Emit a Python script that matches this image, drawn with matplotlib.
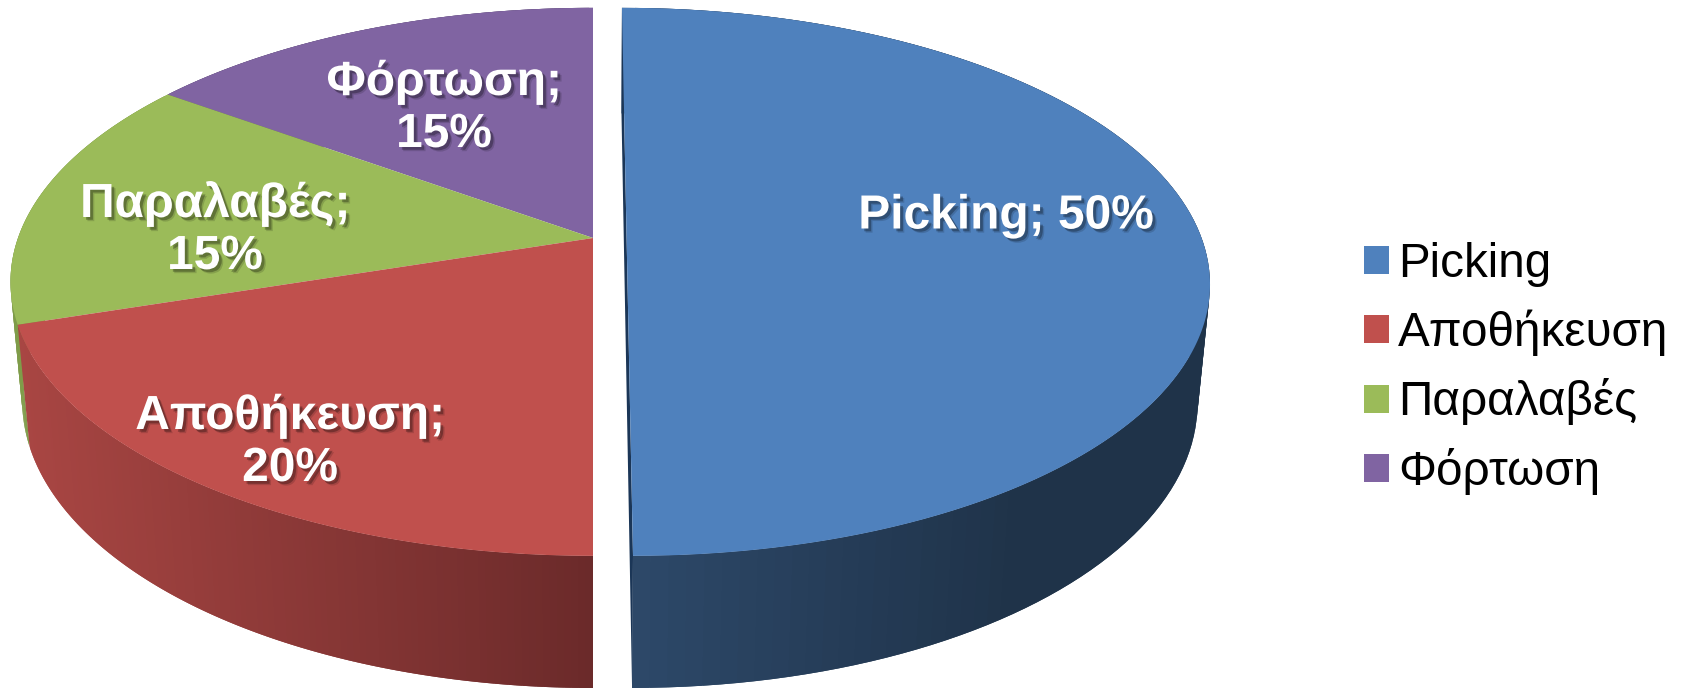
import numpy as np
import matplotlib
matplotlib.use("Agg")
import matplotlib.pyplot as plt
import matplotlib.patheffects as pe
from matplotlib.patches import Patch, Polygon

# Chart data
categories = ["Picking", "Αποθήκευση", "Παραλαβές", "Φόρτωση"]
shares = [50, 20, 15, 15]
label_separators = ["; ", ";\n", ";\n", ";\n"]

# Styling
top_colors = ["#4f81bd", "#c0504d", "#9bbb59", "#8064a2"]
wall_ramps = {
    0: ((633, "#2d4869"), (1010, "#1f3349")),
    1: ((26, "#a94643"), (592, "#6b2a2a")),
    2: ((0, "#7f9c49"), (60, "#7f9c49")),
    3: ((0, "#5e4a78"), (60, "#5e4a78")),
}
label_pos = [(1006, 216), (290, 442), (215, 230), (444, 108)]

# Perspective camera for the tilted disc, in figure pixels
CX, CY = 593.0, 238.0
RX, RY = 575.0, 267.0
TILT = 0.16
DEPTH_W = 0.02
DEPTH_H = 120.0
EXPLODE = [33.6, 0.0, 0.0, 0.0]


def project(theta, shift, radius=1.0, lower=False):
    """Project polar disc points (clockwise from 12 o'clock) to the canvas."""
    u = radius * np.sin(theta)
    v = radius * np.cos(theta)
    w = 1 + TILT * v + (DEPTH_W if lower else 0.0)
    h = DEPTH_H if lower else 0.0
    return CX + (RX * u + shift) / w, CY + (-RY * v + h) / w


def hex_rgb(c):
    return np.array(matplotlib.colors.to_rgb(c))


fig = plt.figure(figsize=(16.85, 6.89), dpi=100)
ax = fig.add_axes([0, 0, 1, 1])
ax.set_xlim(0, 1685)
ax.set_ylim(689, 0)
ax.axis("off")

edges = np.radians(np.concatenate([[0], np.cumsum(shares)]) * 3.6)
order = [3, 2, 0, 1]

# Outer walls: overlapping strips shaded by horizontal position, so no seams show.
# Strips are painted towards the front so each one covers its neighbour's edge.
for i in order:
    t = np.linspace(edges[i], edges[i + 1], 120)
    xt, yt = project(t, EXPLODE[i])
    xb, yb = project(t, EXPLODE[i], lower=True)
    (x0, c0), (x1, c1) = wall_ramps[i]
    last = len(t) - 1
    steps = range(last) if i == 0 else range(last - 1, -1, -1)
    for k in steps:
        a = k if i == 0 else max(k - 1, 0)
        b = min(k + 2, last) if i == 0 else k + 1
        f = np.clip(((xb[k] + xb[k + 1]) / 2 - x0) / (x1 - x0), 0, 1)
        col = (1 - f) * hex_rgb(c0) + f * hex_rgb(c1)
        quad = [(xt[a], yt[a]), (xt[b], yt[b]), (xb[b], yb[b]), (xb[a], yb[a])]
        ax.add_patch(Polygon(quad, closed=True, facecolor=col, edgecolor="none", zorder=2))

# Inner cut face of the pulled-out slice
xa, ya = project(np.array([0.0, np.pi]), EXPLODE[0])
xc, yc = project(np.array([0.0, np.pi]), EXPLODE[0], lower=True)
ax.add_patch(Polygon([(xa[0], ya[0]), (xa[1], ya[1]), (xc[1], yc[1]), (xc[0], yc[0])],
                     closed=True, facecolor="#1b3657", edgecolor="none", zorder=2.5))

# Top faces
for i in order:
    t = np.linspace(edges[i], edges[i + 1], 300)
    x, y = project(t, EXPLODE[i])
    apex_x, apex_y = project(np.array([0.0]), EXPLODE[i], radius=0.0)
    pts = np.column_stack([np.r_[apex_x, x], np.r_[apex_y, y]])
    ax.add_patch(Polygon(pts, closed=True, facecolor=top_colors[i], edgecolor="none", zorder=3))

# Slice labels with a soft drop shadow
shadow = [
    pe.SimplePatchShadow(offset=(3.0, -3.0), shadow_rgbFace="black", alpha=0.14),
    pe.SimplePatchShadow(offset=(2.0, -2.0), shadow_rgbFace="black", alpha=0.28),
    pe.Normal(),
]
for name, share, sep, (lx, ly) in zip(categories, shares, label_separators, label_pos):
    ax.text(lx, ly, f"{name}{sep}{share}%", color="white", fontsize=34.5, fontweight="bold",
            family="Liberation Sans", ha="center", va="center", linespacing=1.2,
            path_effects=shadow, zorder=5)

# Legend
handles = [Patch(facecolor=c, edgecolor="none") for c in top_colors]
ax.legend(handles, categories, loc="center left", bbox_to_anchor=(1364 / 1685, 1 - 368.5 / 689),
          frameon=False, prop={"family": "Liberation Sans", "size": 34.3},
          handlelength=0.53, handleheight=0.53, handletextpad=0.19, labelspacing=0.47,
          borderpad=0, borderaxespad=0)

fig.savefig("out.png", dpi=100, facecolor="white")
